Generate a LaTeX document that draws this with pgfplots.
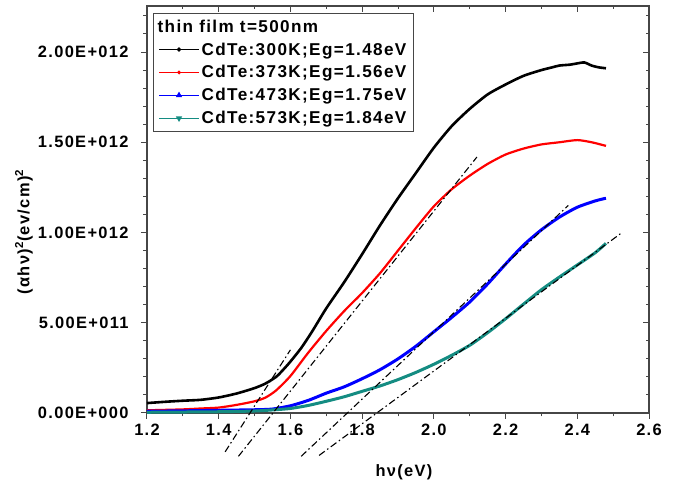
\documentclass[border=0pt]{standalone}
\usepackage{pgfplots}
\pgfplotsset{compat=1.18}
\usepackage{fontspec}
\setmainfont{Liberation Sans}[LetterSpace=8]
\definecolor{tealc}{RGB}{20,140,130}
\definecolor{axgray}{RGB}{70,70,70}
\newcommand{\lbl}{\bfseries\fontsize{16.5}{19}\selectfont}
\newcommand{\lgd}{\bfseries\fontsize{17.2}{20}\selectfont}
\begin{document}
\begin{tikzpicture}
\pgfplotsset{
  common/.style={
    scale only axis, width=502bp, height=407bp,
    xmin=1.2, xmax=2.6, ymin=0, ymax=2.255,
    axis line style={line width=1.2bp, draw=axgray},
    xtick={1.2,1.4,1.6,1.8,2.0,2.2,2.4,2.6},
    minor xtick={1.3,1.5,1.7,1.9,2.1,2.3,2.5},
    ytick={0,0.5,1,1.5,2},
    minor ytick={0.1,0.2,0.3,0.4,0.6,0.7,0.8,0.9,1.1,1.2,1.3,1.4,1.6,1.7,1.8,1.9,2.1,2.2},
    major tick length=6bp, minor tick length=3.5bp,
    every tick/.style={line width=1bp, draw=axgray},
  }
}
\begin{axis}[common,
  xtick pos=right, ytick pos=right, tick align=inside,
  xticklabels={}, yticklabels={}]
\end{axis}
\begin{axis}[common,
  clip=false,
  xtick pos=left, ytick pos=left, tick align=outside,
  xticklabels={1.2,1.4,1.6,1.8,2.0,2.2,2.4,2.6},
  yticklabels={0.00E+000,5.00E+011,1.00E+012,1.50E+012,2.00E+012},
  ticklabel style={font=\lbl},
  yticklabel style={xshift=-9bp},
  xticklabel style={yshift=-2bp},
  xlabel={hν(eV)},
  ylabel={(αhν)\textsuperscript{2}(ev/cm)\textsuperscript{2}},
  xlabel style={font=\lbl, at={(rel axis cs:0.512,-0.145)}, anchor=center},
  ylabel style={font=\lbl, at={(rel axis cs:-0.245,0.445)}, anchor=center, rotate=0},
  legend style={at={(rel axis cs:0.012,0.982)}, anchor=north west,
    draw=axgray, line width=0.8bp, font=\lgd, fill=white,
    inner xsep=5bp, inner ysep=4bp, row sep=5bp},
  legend cell align=left,
  legend image code/.code={\draw[mark repeat=2,mark phase=2,#1] plot coordinates {(0bp,0bp) (20bp,0bp) (40bp,0bp)};},
]
\addlegendimage{empty legend}
\addlegendimage{black, line width=1.2bp, mark=*, mark size=1.5bp}
\addlegendimage{red, line width=1.2bp, mark=*, mark size=1.2bp}
\addlegendimage{blue, line width=1.2bp, mark=triangle*, mark size=2.5bp}
\addlegendimage{tealc, line width=1.2bp, mark=triangle*, mark options={rotate=180}, mark size=2.5bp}
\legend{\hspace*{-44bp}thin film t=500nm, CdTe:300K;Eg=1.48eV, CdTe:373K;Eg=1.56eV, CdTe:473K;Eg=1.75eV, CdTe:573K;Eg=1.84eV}

% 300 K
\addplot[forget plot, black, line width=2.6bp, smooth, tension=0.4] coordinates {
(1.20,0.055) (1.25,0.062) (1.30,0.068) (1.35,0.073) (1.40,0.086) (1.45,0.108) (1.50,0.138)
(1.53,0.163) (1.56,0.200) (1.58,0.240) (1.60,0.285) (1.63,0.360) (1.66,0.450) (1.70,0.580)
(1.75,0.725) (1.80,0.880) (1.85,1.040) (1.90,1.190) (1.95,1.330) (2.00,1.470) (2.05,1.590)
(2.10,1.685) (2.15,1.765) (2.20,1.820) (2.25,1.868) (2.30,1.900) (2.33,1.915) (2.35,1.925)
(2.38,1.930) (2.40,1.937) (2.42,1.942) (2.44,1.925) (2.46,1.915) (2.48,1.910)};
% 373 K
\addplot[forget plot, red, line width=2.2bp, smooth, tension=0.4] coordinates {
(1.20,0.015) (1.30,0.020) (1.35,0.025) (1.40,0.030) (1.45,0.045) (1.50,0.065) (1.53,0.085)
(1.56,0.125) (1.60,0.205) (1.65,0.335) (1.70,0.455) (1.75,0.565) (1.80,0.665) (1.85,0.775)
(1.90,0.900) (1.95,1.025) (2.00,1.145) (2.05,1.240) (2.10,1.315) (2.15,1.380) (2.20,1.432)
(2.25,1.465) (2.30,1.488) (2.35,1.500) (2.40,1.512) (2.44,1.500) (2.48,1.480)};
% 473 K
\addplot[forget plot, blue, line width=3bp, smooth, tension=0.4] coordinates {
(1.20,0.010) (1.30,0.012) (1.40,0.015) (1.50,0.018) (1.55,0.022) (1.60,0.040) (1.65,0.070)
(1.70,0.110) (1.75,0.145) (1.80,0.190) (1.85,0.240) (1.90,0.300) (1.95,0.370) (2.00,0.450)
(2.05,0.530) (2.10,0.615) (2.15,0.715) (2.20,0.825) (2.25,0.930) (2.30,1.015) (2.35,1.085)
(2.40,1.140) (2.45,1.175) (2.48,1.190)};
% 573 K
\addplot[forget plot, tealc, line width=3bp, smooth, tension=0.4] coordinates {
(1.20,0.004) (1.40,0.007) (1.50,0.011) (1.55,0.017) (1.60,0.025) (1.65,0.042) (1.70,0.065)
(1.75,0.090) (1.80,0.120) (1.85,0.150) (1.90,0.185) (1.95,0.225) (2.00,0.270) (2.05,0.320)
(2.10,0.375) (2.15,0.445) (2.20,0.522) (2.25,0.603) (2.30,0.683) (2.35,0.753) (2.40,0.820)
(2.45,0.888) (2.48,0.940)};

% tangent lines
\addplot[forget plot, black, line width=1.1bp, dash pattern=on 7bp off 3bp on 1.5bp off 3bp] coordinates {(1.418,-0.215) (1.600,0.350)};
\addplot[forget plot, black, line width=1.1bp, dash pattern=on 7bp off 3bp on 1.5bp off 3bp] coordinates {(1.455,-0.240) (2.120,1.418)};
\addplot[forget plot, black, line width=1.1bp, dash pattern=on 7bp off 3bp on 1.5bp off 3bp] coordinates {(1.630,-0.240) (2.375,1.150)};
\addplot[forget plot, black, line width=1.1bp, dash pattern=on 7bp off 3bp on 1.5bp off 3bp] coordinates {(1.680,-0.235) (2.525,1.000)};
\end{axis}
\pgfresetboundingbox
\path (current axis.south west) ++(-147bp,-77bp) rectangle ++(681bp,490bp);
\end{tikzpicture}
\end{document}
